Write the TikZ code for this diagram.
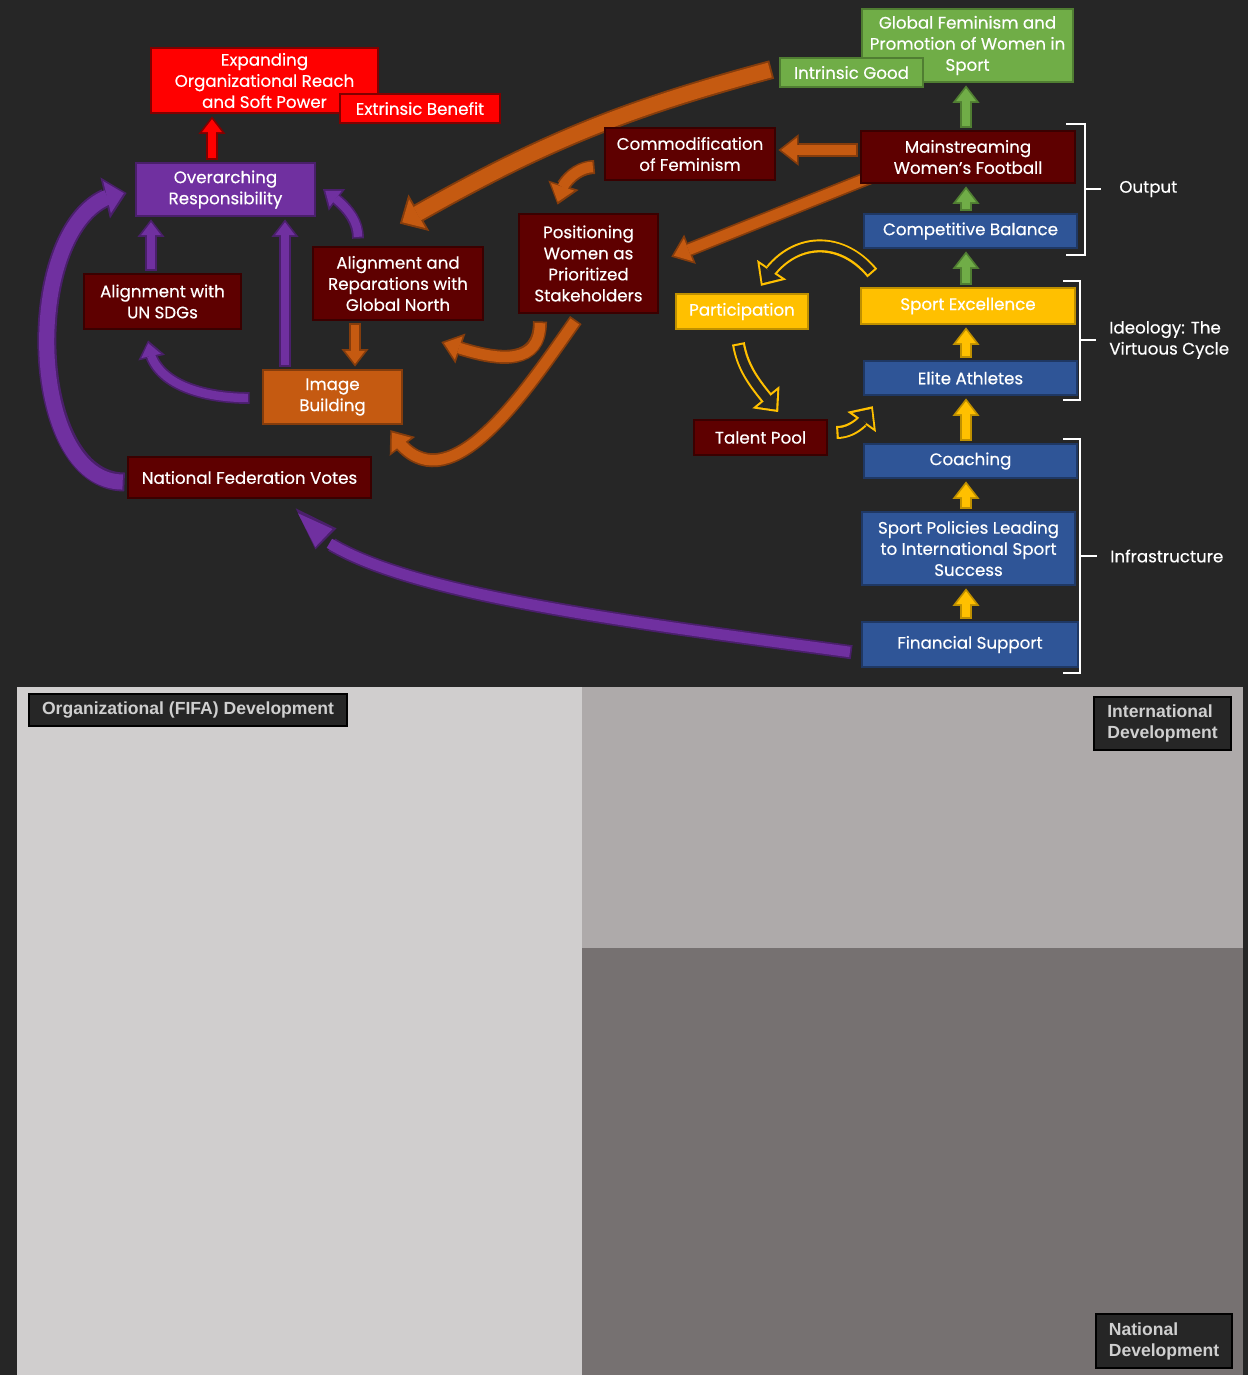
\documentclass[tikz,border=0pt]{standalone}
\usepackage{fontspec}
\setmainfont{Poppins}
\newfontfamily\boxfont{Poppins}[FakeBold=0.4]
\newfontfamily\tagfont{Liberation Sans}
\usetikzlibrary{arrows.meta, bending, positioning}

\definecolor{bgdark}{HTML}{262626}
\definecolor{redfill}{HTML}{FF0000}
\definecolor{redline}{HTML}{800000}
\definecolor{purplefill}{HTML}{7030A0}
\definecolor{purpleline}{HTML}{4A1F6B}
\definecolor{maroonfill}{HTML}{5E0000}
\definecolor{maroonline}{HTML}{3A0000}
\definecolor{orangefill}{HTML}{C55A11}
\definecolor{orangeline}{HTML}{843C0C}
\definecolor{greenfill}{HTML}{70AD47}
\definecolor{greenline}{HTML}{507E32}
\definecolor{bluefill}{HTML}{2F5597}
\definecolor{blueline}{HTML}{1F3864}
\definecolor{yellowfill}{HTML}{FFC000}
\definecolor{yellowline}{HTML}{BF9000}
\definecolor{panelleft}{HTML}{D0CECE}
\definecolor{paneltop}{HTML}{AEAAAA}
\definecolor{panelbottom}{HTML}{767171}
\definecolor{tagtext}{HTML}{CFCFCF}

\pgfdeclarelayer{back}
\pgfsetlayers{back,main}

\begin{document}
\begin{tikzpicture}
        [
            x=0.02cm, y=-0.02cm,
            box/.style 2 args = {draw=#2, fill=#1, line width=1.5pt, text=white, align=center, inner sep=0pt, font=\boxfont\fontsize{9.5}{12}\selectfont},
            note/.style = {text=white, align=left, inner sep=0pt, anchor=west, font=\boxfont\fontsize{9.5}{12}\selectfont},
            tag/.style = {draw=black, fill=bgdark, line width=1.5pt, text=tagtext, inner sep=0pt, font=\tagfont\bfseries\fontsize{10}{12}\selectfont},
            bracket/.style = {draw=white, line width=1.1pt},
            flow/.style 2 args = {draw=#1, line width=4.8pt, shorten <=2.2pt, shorten >=2.8pt,
                -{Triangle[length=7.4pt, width=11.4pt, line width=0pt]},
                preaction={draw=#2, line width=6.8pt, shorten <=1.2pt, shorten >=1.2pt, -{Triangle[length=10pt, width=15.5pt, line width=0pt]}}},
            midflow/.style 2 args = {draw=#1, line width=6pt, shorten <=2.2pt, shorten >=2.8pt,
                -{Triangle[length=8.9pt, width=13.9pt, line width=0pt]},
                preaction={draw=#2, line width=8pt, shorten <=1.2pt, shorten >=1.2pt, -{Triangle[length=11.5pt, width=18pt, line width=0pt]}}},
            bigflow/.style 2 args = {draw=#1, line width=8.6pt, shorten <=2.3pt, shorten >=2.8pt,
                -{Triangle[length=9.8pt, width=18.8pt, line width=0pt]},
                preaction={draw=#2, line width=10.8pt, shorten <=1.2pt, shorten >=1.2pt, -{Triangle[length=12.5pt, width=24pt, line width=0pt]}}},
            spikeflow/.style 2 args = {draw=#1, line width=6pt, shorten <=2.2pt, shorten >=4.3pt,
                -{Triangle[length=20.4pt, width=14.2pt, line width=0pt]},
                preaction={draw=#2, line width=8pt, shorten <=1.2pt, shorten >=1.2pt, -{Triangle[length=24.5pt, width=17pt, line width=0pt]}}},
            hollow/.style = {draw=bgdark, line width=5pt, shorten <=2.4pt, shorten >=3pt,
                -{Triangle[length=8pt, width=14.6pt, line width=0pt]},
                preaction={draw=yellowfill, line width=7.4pt, shorten <=1.2pt, shorten >=1.2pt, -{Triangle[length=11pt, width=20pt, line width=0pt]}}},
        ]

        \useasboundingbox (0,0) rectangle (1248,1375);
        \begin{pgfonlayer}{back}
            \fill[bgdark] (0,0) rectangle (1248,1375);
            \fill[panelleft] (17,687) rectangle (582,1375);
            \fill[paneltop] (582,687) rectangle (1243,948);
            \fill[panelbottom] (582,948) rectangle (1243,1375);
        \end{pgfonlayer}

        \node[box={redfill}{redline}, minimum width=4.54cm, minimum height=1.30cm] (expand) at (264.5,80.5) {Expanding\\Organizational Reach\\and Soft Power};
        \node[box={redfill}{redline}, minimum width=3.20cm, minimum height=0.58cm] (extrinsic) at (420,108.5) {Extrinsic Benefit};
        \node[box={purplefill}{purpleline}, minimum width=3.58cm, minimum height=1.06cm] (overarch) at (225.5,189.5) {Overarching\\Responsibility};
        \node[box={maroonfill}{maroonline}, minimum width=3.14cm, minimum height=1.10cm] (sdgs) at (162.5,301.5) {Alignment with\\UN SDGs};
        \node[box={maroonfill}{maroonline}, minimum width=3.40cm, minimum height=1.46cm] (northa) at (398,283.5) {Alignment and\\Reparations with\\Global North};
        \node[box={orangefill}{orangeline}, minimum width=2.78cm, minimum height=1.08cm] (image) at (332.5,397) {Image\\Building};
        \node[box={maroonfill}{maroonline}, minimum width=4.86cm, minimum height=0.82cm] (votes) at (249.5,477.5) {National Federation Votes};

        \node[box={maroonfill}{maroonline}, minimum width=3.40cm, minimum height=1.04cm] (commod) at (690,154) {Commodification\\of Feminism};
        \node[box={maroonfill}{maroonline}, minimum width=2.78cm, minimum height=1.98cm] (position) at (588.5,263.5) {Positioning\\Women as\\Prioritized\\Stakeholders};
        \node[box={yellowfill}{yellowline}, minimum width=2.64cm, minimum height=0.70cm] (particip) at (742,311.5) {Participation};
        \node[box={maroonfill}{maroonline}, minimum width=2.66cm, minimum height=0.70cm] (talent) at (760.5,437.5) {Talent Pool};

        \node[box={greenfill}{greenline}, minimum width=4.22cm, minimum height=1.46cm] (globalfem) at (967.5,45.5) {Global Feminism and\\Promotion of Women in\\Sport};
        \node[box={greenfill}{greenline}, minimum width=2.86cm, minimum height=0.58cm] (intrinsic) at (851.5,72.5) {Intrinsic Good};
        \node[box={maroonfill}{maroonline}, minimum width=4.28cm, minimum height=1.04cm] (mainstream) at (968,157) {Mainstreaming\\Women’s Football};
        \node[box={bluefill}{blueline}, minimum width=4.26cm, minimum height=0.68cm] (compbal) at (970.5,231) {Competitive Balance};
        \node[box={yellowfill}{yellowline}, minimum width=4.28cm, minimum height=0.72cm] (sportexc) at (968,306) {Sport Excellence};
        \node[box={bluefill}{blueline}, minimum width=4.26cm, minimum height=0.68cm] (elite) at (970.5,378) {Elite Athletes};
        \node[box={bluefill}{blueline}, minimum width=4.26cm, minimum height=0.68cm] (coaching) at (970.5,461) {Coaching};
        \node[box={bluefill}{blueline}, minimum width=4.26cm, minimum height=1.46cm] (policies) at (968.5,548.5) {Sport Policies Leading\\to International Sport\\Success};
        \node[box={bluefill}{blueline}, minimum width=4.32cm, minimum height=0.90cm] (finance) at (970,644.5) {Financial Support};
        \coordinate (stackx) at (966,0);

        \draw[bracket] (1066,124) -- (1085,124) -- (1085,255) -- (1066,255);
        \draw[bracket] (1085,189) -- (1101,189);
        \node[note] (output) at (1119,189) {Output};
        \draw[bracket] (1063,281) -- (1080,281) -- (1080,400) -- (1063,400);
        \draw[bracket] (1080,340) -- (1096,340);
        \node[note] (ideology) at (1109,340) {Ideology: The\\Virtuous Cycle};
        \draw[bracket] (1063,439) -- (1080,439) -- (1080,673) -- (1063,673);
        \draw[bracket] (1080,556) -- (1097,556);
        \node[note] (infra) at (1110,556) {Infrastructure};

        \node[tag, minimum width=6.36cm, minimum height=0.64cm] (orglbl) at (188,710) {Organizational (FIFA) Development};
        \node[tag, align=left, minimum width=2.74cm, minimum height=1.06cm] (intlbl) at (1162.5,723.5) {International\\Development};
        \node[tag, align=left, minimum width=2.72cm, minimum height=1.08cm] (natlbl) at (1164,1341) {National\\Development};

        \begin{pgfonlayer}{back}
            \draw[flow={redfill}{redline}] ([xshift=-0.27cm]overarch.north) -- ([xshift=-0.27cm]overarch.north |- expand.south);

            \draw[flow={purplefill}{purpleline}] ([xshift=-0.23cm]sdgs.north) -- ([xshift=-0.23cm]sdgs.north |- overarch.south);
            \draw[flow={purplefill}{purpleline}] ([xshift=-0.95cm]image.north) -- ([xshift=-0.95cm]image.north |- overarch.south);
            \draw[flow={purplefill}{purpleline}] ([xshift=-0.2cm, yshift=-0.02cm]image.west) to[out=180, in=-90] ([xshift=-0.29cm, yshift=-0.16cm]sdgs.south);
            \draw[flow={purplefill}{purpleline}] ([xshift=-0.8cm, yshift=0.1cm]northa.north) to[out=90, in=-35] ([xshift=0.1cm, yshift=0.03cm]overarch.east);
            \draw[bigflow={purplefill}{purpleline}] ([yshift=-0.09cm]votes.west) to[out=180, in=180, looseness=0.95] ([xshift=-0.12cm, yshift=-0.07cm]overarch.west);
            \draw[spikeflow={purplefill}{purpleline}] ([xshift=-0.14cm, yshift=-0.16cm]finance.west) .. controls (600,618) and (320,585) .. ([xshift=0.91cm, yshift=-0.14cm]votes.south);

            \draw[bigflow={orangefill}{orangeline}] ([xshift=-0.1cm, yshift=0.07cm]intrinsic.west) to[out=195, in=30] ([yshift=0.42cm]northa.north);
            \draw[midflow={orangefill}{orangeline}] ([yshift=0.14cm]mainstream.west) -- ([yshift=0.14cm]mainstream.west -| commod.east);
            \draw[midflow={orangefill}{orangeline}] ([xshift=-0.14cm, yshift=-0.26cm]commod.west) to[out=180, in=90] ([xshift=-0.62cm, yshift=0.12cm]position.north);
            \draw[midflow={orangefill}{orangeline}] ([xshift=-1.56cm, yshift=0.3cm]mainstream.south) -- ([xshift=0.2cm, yshift=0.12cm]position.east);
            \draw[flow={orangefill}{orangeline}] ([xshift=-0.86cm]northa.south) -- ([xshift=-0.86cm]northa.south |- image.north);
            \draw[midflow={orangefill}{orangeline}] ([xshift=-0.97cm, yshift=-0.1cm]position.south) to[out=-90, in=-20, looseness=1.3] ([xshift=-0.9cm, yshift=-0.4cm]northa.south east);
            \draw[midflow={orangefill}{orangeline}] ([xshift=-0.23cm, yshift=-0.08cm]position.south) to[out=-125, in=-60, looseness=1.2] ([xshift=-0.28cm, yshift=-0.06cm]image.south east);

            \draw[flow={greenfill}{greenline}] (stackx |- sportexc.north) -- (stackx |- compbal.south);
            \draw[flow={greenfill}{greenline}] (stackx |- compbal.north) -- (stackx |- mainstream.south);
            \draw[flow={greenfill}{greenline}] (stackx |- mainstream.north) -- (stackx |- globalfem.south);
            \draw[flow={yellowfill}{yellowline}] (stackx |- elite.north) -- (stackx |- sportexc.south);
            \draw[flow={yellowfill}{yellowline}] (stackx |- coaching.north) -- (stackx |- elite.south);
            \draw[flow={yellowfill}{yellowline}] (stackx |- policies.north) -- (stackx |- coaching.south);
            \draw[flow={yellowfill}{yellowline}] (stackx |- finance.north) -- (stackx |- policies.south);

            \draw[hollow] ([xshift=0.28cm, yshift=0.24cm]sportexc.north west) to[out=130, in=63, looseness=1.25] ([xshift=0.36cm, yshift=0.1cm]particip.north);
            \draw[hollow] ([xshift=-0.08cm, yshift=-0.22cm]particip.south) to[out=-80, in=129] ([xshift=0.38cm, yshift=0.1cm]talent.north);
            \draw[hollow] ([xshift=0.12cm, yshift=0.1cm]talent.east) to[out=0, in=-115] ([xshift=0.22cm, yshift=-0.16cm]elite.south west);
        \end{pgfonlayer}
    \end{tikzpicture}
\end{document}
